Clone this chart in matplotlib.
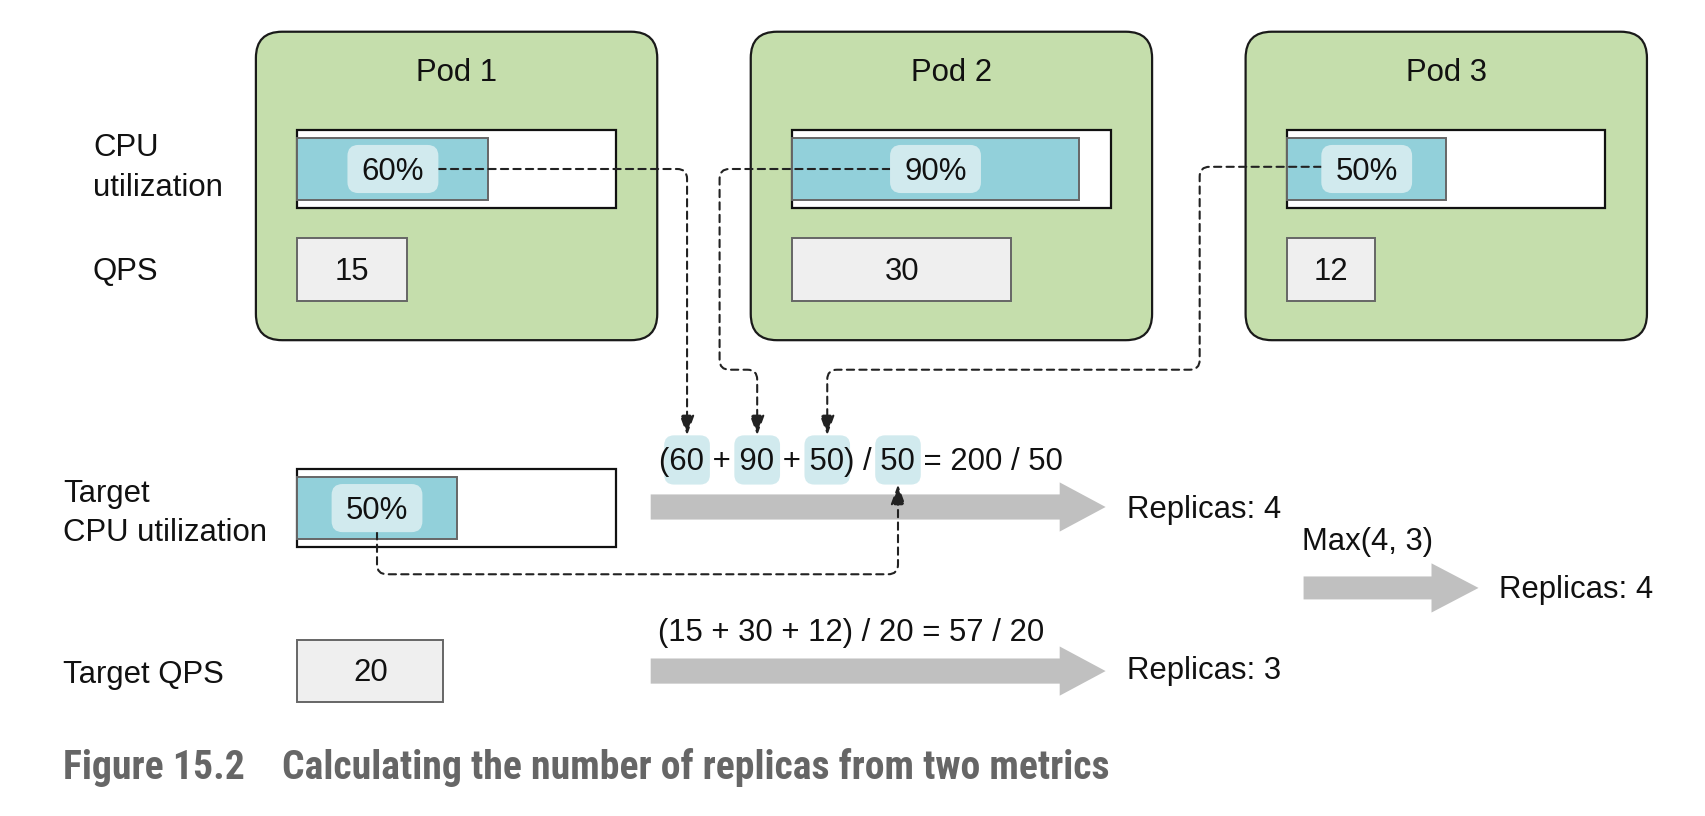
import numpy as np
import matplotlib
matplotlib.use("Agg")
import matplotlib.pyplot as plt
from matplotlib import font_manager
from matplotlib.patches import FancyBboxPatch, Rectangle, FancyArrowPatch, FancyArrow
from matplotlib.path import Path

# datos del diagrama
pod_names = ["Pod 1", "Pod 2", "Pod 3"]
cpu_util = [60, 90, 50]        # % por pod
pod_qps = [15, 30, 12]
target_cpu = 50
target_qps = 20
cpu_replicas = 4
qps_replicas = 3
caption_num = "Figure 15.2"
caption_txt = "Calculating the number of replicas from two metrics"

W, H = 1560, 746
fig = plt.figure(figsize=(17.06, 8.16), dpi=100)
ax = fig.add_axes([0, 0, 1, 1])
ax.set_xlim(0, W)
ax.set_ylim(H, 0)
ax.axis("off")
renderer = fig.canvas.get_renderer()
px = W / fig.bbox.width

FONT = "Liberation Sans"
FS = 22.4
GREEN, TEAL, PALE, LIGHT, ARROW = "#c5deac", "#92d0da", "#d1eaee", "#efefef", "#c0c0c0"
BAR_W, BAR_H, INSET = 291, 71, 7
QPS_UNIT = 100 / 15


def txt(x, y, s, **kw):
    opts = dict(fontsize=FS, family=FONT, color="#111111", va="baseline", zorder=6)
    opts.update(kw)
    return ax.text(x, y, s, **opts)


def width(s, **kw):
    t = txt(0, 0, s, **kw)
    w = t.get_window_extent(renderer).width * px
    t.remove()
    return w


def rbox(x, y, w, h, r, **kw):
    ax.add_patch(FancyBboxPatch((x, y), w, h,
                                boxstyle=f"round,pad=0,rounding_size={r}", **kw))


def route(points, r=9):
    verts = [points[0]]
    codes = [Path.MOVETO]
    for i in range(1, len(points) - 1):
        p0, p1, p2 = (np.array(points[j], float) for j in (i - 1, i, i + 1))
        d1 = (p1 - p0) / np.linalg.norm(p1 - p0)
        d2 = (p2 - p1) / np.linalg.norm(p2 - p1)
        verts += [tuple(p1 - d1 * r), tuple(p1), tuple(p1 + d2 * r)]
        codes += [Path.LINETO, Path.CURVE3, Path.CURVE3]
    verts.append(points[-1])
    codes.append(Path.LINETO)
    return Path(verts, codes)


def dashed(points):
    ax.add_patch(FancyArrowPatch(path=route(points),
                                 arrowstyle="-|>,head_length=0.6,head_width=0.22",
                                 mutation_scale=20, color="#222222", lw=1.5,
                                 linestyle=(0, (3.5, 2.5)), zorder=4))


def cpu_bar(x, y, value):
    ax.add_patch(Rectangle((x, y), BAR_W, BAR_H, fc="white", ec="#111111", lw=1.6, zorder=2))
    fill = BAR_W * value / 100
    ax.add_patch(Rectangle((x, y + INSET), fill, BAR_H - 2 * INSET,
                           fc=TEAL, ec="#666666", lw=1.4, zorder=3))
    label = f"{value}%"
    cx, cy = x + fill / 2, y + BAR_H / 2
    w = width(label) + 26
    rbox(cx - w / 2, cy - 22, w, 44, 10, fc=PALE, ec="none", zorder=5)
    txt(cx, cy + 10, label, ha="center")
    return cx, cy, w


def qps_box(x, y, value):
    w = value * QPS_UNIT
    ax.add_patch(Rectangle((x, y), w, 57, fc=LIGHT, ec="#666666", lw=1.4, zorder=2))
    txt(x + w / 2, y + 38, str(value), ha="center")


def formula(x0, y, parts, hl):
    txt(x0, y, "".join(parts), ha="left")
    spans = []
    for i in hl:
        right = x0 + width("".join(parts[:i + 1]))
        left = right - width(parts[i])
        spans.append((left + right) / 2)
        rbox(left - 5, y - 32, right - left + 10, 45, 9, fc=PALE, ec="none", zorder=5)
    return spans


def big_arrow(x0, x1, y, shaft, head, hl):
    ax.add_patch(FancyArrow(x0, y, x1 - x0, 0, width=shaft, head_width=head,
                            head_length=hl, length_includes_head=True,
                            fc=ARROW, ec="none", zorder=2))


# pods
labels = []
for i, name in enumerate(pod_names):
    x = 234 + i * 452.5
    rbox(x, 29, 367, 282, 24, fc=GREEN, ec="#1a1a1a", lw=1.6, zorder=1)
    txt(x + 183.5, 74, name, ha="center")
    labels.append(cpu_bar(x + 38, 119, cpu_util[i]))
    qps_box(x + 38, 218, pod_qps[i])

txt(85, 143, "CPU")
txt(85, 179, "utilization")
txt(85, 256, "QPS")

# objetivos
txt(58, 459, "Target")
txt(58, 495, "CPU utilization")
tx, ty, tw = cpu_bar(272, 429, target_cpu)
txt(58, 624, "Target QPS")
qps_box(272, 585, target_qps)

# formulas
cpu_parts = ["("]
for k, v in enumerate(cpu_util):
    cpu_parts.append(str(v))
    cpu_parts.append(" + " if k < len(cpu_util) - 1 else ") / ")
cpu_parts += [str(target_cpu), f" = {sum(cpu_util)} / {target_cpu}"]
c60, c90, c50, cdiv = formula(603, 430, cpu_parts, [1, 3, 5, 7])

qps_text = "(" + " + ".join(str(v) for v in pod_qps) + f") / {target_qps} = {sum(pod_qps)} / {target_qps}"
formula(602, 586, [qps_text], [])

# conectores discontinuos
(x1, y1, w1), (x2, y2, w2), (x3, y3, w3) = labels
dashed([(x1 + w1 / 2, y1), (c60, y1), (c60, 398)])
dashed([(x2 - w2 / 2, y2), (658, y2), (658, 338), (c90, 338), (c90, 398)])
dashed([(x3 - w3 / 2, y3 - 2), (1097, y3 - 2), (1097, 338), (c50, 338), (c50, 398)])
dashed([(tx, ty + 22), (tx, 525), (cdiv, 525), (cdiv, 443)])

# flechas grandes
big_arrow(595, 1011, 463.5, 23, 45, 42)
big_arrow(1192, 1352, 537.5, 21, 45, 43)
big_arrow(595, 1011, 613.5, 23, 45, 42)

txt(1031, 474, f"Replicas: {cpu_replicas}")
txt(1191, 503, f"Max({cpu_replicas}, {qps_replicas})")
txt(1371, 547, f"Replicas: {max(cpu_replicas, qps_replicas)}")
txt(1031, 621, f"Replicas: {qps_replicas}")

# pie de figura
names = {f.name for f in font_manager.fontManager.ttflist}
cap_family = "DejaVu Sans"
for cand in ["Liberation Sans Narrow", "DejaVu Sans Condensed", "Roboto Condensed"]:
    if cand in names:
        cap_family = cand
        break
cap_kw = dict(family=cap_family, weight="bold", stretch="condensed", color="#666666")
cap_fs = 20 * 754 / width(caption_txt, fontsize=20, **cap_kw)
txt(58, 712, caption_num, fontsize=cap_fs, **cap_kw)
txt(258, 712, caption_txt, fontsize=cap_fs, **cap_kw)

fig.savefig("out.png", dpi=100)
